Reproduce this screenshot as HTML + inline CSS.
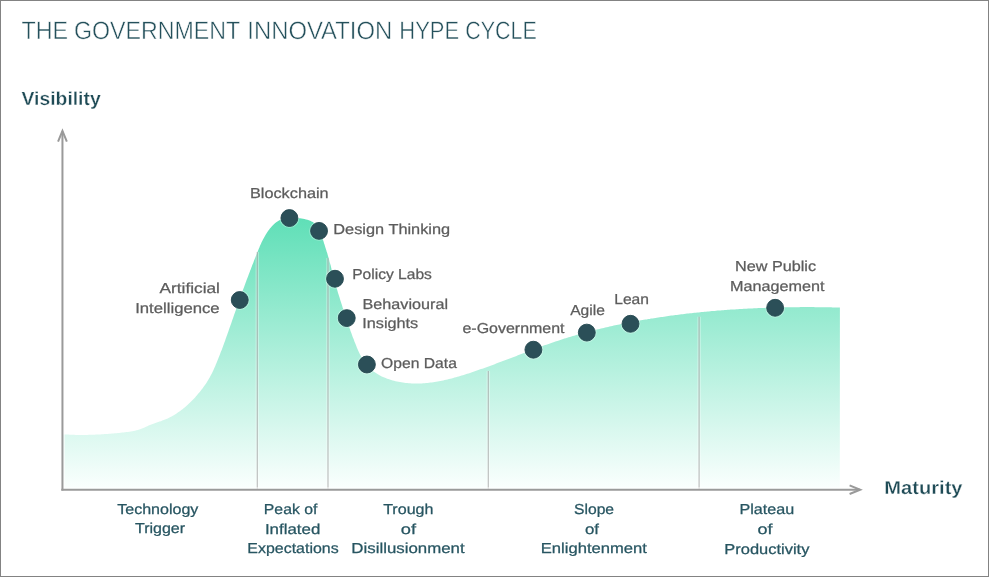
<!DOCTYPE html>
<html><head><meta charset="utf-8"><style>
html,body{margin:0;padding:0;background:#fff;}
body{width:989px;height:577px;overflow:hidden;position:relative;}
svg{position:absolute;left:0;top:0;will-change:transform;text-rendering:geometricPrecision;font-family:"Liberation Sans",sans-serif;}
.frame{position:absolute;left:0;top:0;width:987px;height:575px;border:1px solid #838383;}
</style></head><body>
<svg width="989" height="577" viewBox="0 0 989 577">
<defs><linearGradient id="g" x1="0" y1="218" x2="0" y2="489" gradientUnits="userSpaceOnUse">
<stop offset="0" stop-color="#5fdfb7"/><stop offset="1" stop-color="#fbfffe"/></linearGradient></defs>
<path d="M62.0,434.3 L64.0,434.4 L65.4,434.5 L66.9,434.6 L68.4,434.6 L69.8,434.7 L71.3,434.8 L72.7,434.8 L74.2,434.8 L75.7,434.9 L77.1,434.9 L78.6,434.9 L80.0,434.9 L81.5,434.9 L82.9,434.9 L84.4,434.9 L85.9,434.9 L87.3,434.9 L88.8,434.8 L90.2,434.8 L91.7,434.8 L93.1,434.7 L94.6,434.7 L96.0,434.6 L97.5,434.5 L98.9,434.5 L100.4,434.4 L101.8,434.3 L103.3,434.2 L104.7,434.1 L106.2,434.0 L107.6,433.9 L109.1,433.8 L110.5,433.7 L112.0,433.6 L113.4,433.5 L114.9,433.3 L116.3,433.2 L117.8,433.0 L119.2,432.9 L120.7,432.7 L122.1,432.6 L123.6,432.4 L125.0,432.3 L126.5,432.1 L128.0,431.9 L129.4,431.7 L130.9,431.5 L132.3,431.2 L133.7,431.0 L135.1,430.7 L136.5,430.3 L137.9,429.9 L139.3,429.5 L140.7,429.0 L142.0,428.5 L143.3,427.9 L144.6,427.4 L146.0,426.8 L147.3,426.2 L148.6,425.6 L150.0,425.1 L151.3,424.6 L152.7,424.1 L154.1,423.6 L155.4,423.1 L156.8,422.6 L158.2,422.1 L159.6,421.6 L161.0,421.2 L162.3,420.6 L163.7,420.1 L165.1,419.6 L166.4,419.0 L167.7,418.4 L169.1,417.8 L170.4,417.1 L171.6,416.4 L172.9,415.7 L174.2,415.0 L175.4,414.2 L176.6,413.4 L177.8,412.6 L179.0,411.8 L180.2,410.9 L181.3,410.1 L182.5,409.2 L183.6,408.3 L184.7,407.4 L185.8,406.4 L186.9,405.5 L188.0,404.5 L189.0,403.6 L190.1,402.6 L191.1,401.6 L192.1,400.5 L193.1,399.5 L194.1,398.5 L195.1,397.4 L196.0,396.3 L197.0,395.2 L197.9,394.1 L198.8,393.0 L199.8,391.9 L200.7,390.8 L201.6,389.6 L202.5,388.5 L203.3,387.3 L204.2,386.1 L205.0,384.9 L205.9,383.7 L206.7,382.5 L207.4,381.3 L208.2,380.1 L208.9,378.8 L209.7,377.6 L210.3,376.3 L211.0,375.0 L211.7,373.8 L212.3,372.5 L212.9,371.2 L213.5,369.9 L214.1,368.6 L214.7,367.3 L215.3,366.0 L215.8,364.6 L216.4,363.3 L216.9,362.0 L217.5,360.6 L218.0,359.3 L218.5,358.0 L219.1,356.6 L219.6,355.3 L220.1,353.9 L220.6,352.6 L221.1,351.2 L221.7,349.9 L222.2,348.5 L222.7,347.2 L223.2,345.8 L223.7,344.5 L224.2,343.1 L224.7,341.7 L225.2,340.4 L225.6,339.0 L226.1,337.7 L226.6,336.3 L227.1,334.9 L227.6,333.5 L228.1,332.2 L228.6,330.8 L229.0,329.4 L229.5,328.1 L230.0,326.7 L230.5,325.3 L231.0,323.9 L231.5,322.6 L231.9,321.2 L232.4,319.8 L232.9,318.4 L233.4,317.1 L233.8,315.7 L234.3,314.3 L234.8,312.9 L235.3,311.6 L235.8,310.2 L236.3,308.8 L236.7,307.5 L237.2,306.1 L237.7,304.7 L238.2,303.3 L238.7,302.0 L239.2,300.6 L239.7,299.2 L240.2,297.9 L240.6,296.5 L241.1,295.1 L241.6,293.7 L242.1,292.4 L242.6,291.0 L243.1,289.6 L243.6,288.3 L244.1,286.9 L244.6,285.5 L245.1,284.2 L245.6,282.8 L246.1,281.4 L246.6,280.1 L247.1,278.7 L247.7,277.3 L248.2,276.0 L248.7,274.6 L249.2,273.3 L249.7,271.9 L250.2,270.5 L250.8,269.2 L251.3,267.8 L251.8,266.4 L252.3,265.1 L252.9,263.7 L253.4,262.4 L253.9,261.0 L254.5,259.6 L255.0,258.3 L255.5,256.9 L256.1,255.6 L256.6,254.2 L257.1,252.9 L257.7,251.5 L258.2,250.2 L258.8,248.8 L259.4,247.5 L259.9,246.1 L260.5,244.8 L261.1,243.4 L261.7,242.1 L262.4,240.8 L263.0,239.5 L263.7,238.2 L264.4,237.0 L265.1,235.7 L265.8,234.5 L266.6,233.2 L267.4,232.0 L268.2,230.8 L269.1,229.7 L269.9,228.5 L270.9,227.4 L271.9,226.3 L272.9,225.3 L273.9,224.2 L275.0,223.2 L276.2,222.3 L277.4,221.5 L278.6,220.7 L279.9,220.1 L281.2,219.5 L282.6,219.1 L284.0,218.8 L285.5,218.6 L286.9,218.4 L288.4,218.3 L289.8,218.2 L291.3,218.1 L292.7,218.1 L294.2,218.1 L295.6,218.1 L297.1,218.1 L298.5,218.2 L300.0,218.3 L301.5,218.5 L303.0,218.7 L304.5,219.0 L306.0,219.4 L307.4,219.8 L308.9,220.2 L310.2,220.8 L311.5,221.4 L312.8,222.1 L314.0,222.9 L315.1,223.8 L316.0,224.8 L316.9,225.8 L317.8,226.9 L318.5,228.1 L319.2,229.4 L319.8,230.7 L320.4,232.1 L320.9,233.4 L321.4,234.8 L321.9,236.3 L322.3,237.7 L322.8,239.1 L323.2,240.6 L323.7,242.0 L324.1,243.4 L324.6,244.8 L325.0,246.2 L325.4,247.6 L325.9,249.0 L326.3,250.3 L326.7,251.7 L327.2,253.1 L327.6,254.5 L328.0,255.9 L328.4,257.3 L328.8,258.6 L329.2,260.0 L329.5,261.4 L329.9,262.8 L330.3,264.2 L330.7,265.6 L331.0,267.1 L331.4,268.5 L331.7,269.9 L332.1,271.3 L332.5,272.7 L332.8,274.1 L333.2,275.5 L333.5,276.9 L333.9,278.3 L334.3,279.8 L334.7,281.2 L335.1,282.6 L335.4,284.0 L335.8,285.4 L336.3,286.8 L336.7,288.2 L337.1,289.6 L337.5,291.0 L337.9,292.4 L338.3,293.8 L338.8,295.2 L339.2,296.6 L339.7,298.0 L340.1,299.4 L340.5,300.8 L341.0,302.2 L341.4,303.6 L341.9,304.9 L342.3,306.3 L342.7,307.7 L343.2,309.1 L343.6,310.4 L344.1,311.8 L344.5,313.2 L345.0,314.5 L345.4,315.9 L345.9,317.3 L346.3,318.6 L346.8,320.0 L347.2,321.4 L347.7,322.7 L348.2,324.1 L348.6,325.5 L349.1,326.8 L349.6,328.2 L350.1,329.5 L350.5,330.9 L351.0,332.3 L351.5,333.6 L352.0,335.0 L352.5,336.4 L353.0,337.7 L353.6,339.1 L354.1,340.5 L354.6,341.9 L355.2,343.3 L355.7,344.6 L356.3,346.0 L356.8,347.4 L357.4,348.8 L358.0,350.2 L358.6,351.6 L359.3,352.9 L359.9,354.3 L360.6,355.6 L361.3,356.9 L362.0,358.2 L362.7,359.4 L363.5,360.7 L364.3,361.9 L365.2,363.1 L366.0,364.2 L367.0,365.3 L367.9,366.4 L368.9,367.4 L369.9,368.4 L371.0,369.4 L372.0,370.3 L373.2,371.2 L374.3,372.0 L375.5,372.8 L376.7,373.6 L377.9,374.3 L379.1,375.0 L380.4,375.7 L381.7,376.4 L383.0,377.0 L384.3,377.6 L385.7,378.1 L387.1,378.7 L388.4,379.1 L389.8,379.6 L391.2,380.0 L392.7,380.4 L394.1,380.8 L395.5,381.2 L397.0,381.5 L398.4,381.8 L399.9,382.1 L401.3,382.3 L402.8,382.5 L404.3,382.7 L405.7,382.9 L407.2,383.1 L408.7,383.2 L410.1,383.3 L411.6,383.4 L413.0,383.4 L414.5,383.5 L415.9,383.5 L417.4,383.5 L418.8,383.5 L420.3,383.4 L421.7,383.4 L423.2,383.3 L424.6,383.2 L426.1,383.1 L427.5,382.9 L429.0,382.8 L430.4,382.6 L431.8,382.4 L433.3,382.2 L434.7,382.0 L436.1,381.8 L437.6,381.5 L439.0,381.3 L440.4,381.0 L441.8,380.7 L443.3,380.4 L444.7,380.1 L446.1,379.8 L447.5,379.5 L448.9,379.1 L450.3,378.8 L451.7,378.4 L453.2,378.0 L454.6,377.6 L456.0,377.2 L457.4,376.8 L458.8,376.4 L460.2,376.0 L461.6,375.6 L463.0,375.2 L464.4,374.7 L465.8,374.3 L467.2,373.8 L468.6,373.4 L470.0,372.9 L471.3,372.5 L472.7,372.0 L474.1,371.5 L475.5,371.1 L476.9,370.6 L478.3,370.1 L479.6,369.6 L481.0,369.1 L482.4,368.7 L483.8,368.2 L485.1,367.7 L486.5,367.2 L487.9,366.7 L489.3,366.2 L490.6,365.7 L492.0,365.2 L493.4,364.7 L494.7,364.2 L496.1,363.6 L497.5,363.1 L498.8,362.6 L500.2,362.1 L501.6,361.6 L502.9,361.1 L504.3,360.6 L505.6,360.0 L507.0,359.5 L508.4,359.0 L509.7,358.5 L511.1,357.9 L512.4,357.4 L513.8,356.9 L515.2,356.4 L516.5,355.9 L517.9,355.3 L519.2,354.8 L520.6,354.3 L522.0,353.8 L523.3,353.3 L524.7,352.7 L526.0,352.2 L527.4,351.7 L528.8,351.2 L530.1,350.7 L531.5,350.2 L532.9,349.7 L534.2,349.1 L535.6,348.6 L536.9,348.1 L538.3,347.6 L539.7,347.1 L541.0,346.6 L542.4,346.1 L543.8,345.6 L545.1,345.1 L546.5,344.7 L547.9,344.2 L549.3,343.7 L550.6,343.2 L552.0,342.7 L553.4,342.3 L554.8,341.8 L556.1,341.3 L557.5,340.9 L558.9,340.4 L560.3,340.0 L561.7,339.5 L563.1,339.1 L564.4,338.6 L565.8,338.2 L567.2,337.8 L568.6,337.3 L570.0,336.9 L571.4,336.5 L572.8,336.1 L574.2,335.7 L575.6,335.3 L577.0,334.8 L578.4,334.4 L579.8,334.1 L581.2,333.7 L582.6,333.3 L584.0,332.9 L585.4,332.5 L586.8,332.1 L588.2,331.8 L589.6,331.4 L591.0,331.0 L592.5,330.7 L593.9,330.3 L595.3,329.9 L596.7,329.6 L598.1,329.2 L599.5,328.9 L601.0,328.6 L602.4,328.2 L603.8,327.9 L605.2,327.6 L606.6,327.2 L608.1,326.9 L609.5,326.6 L610.9,326.3 L612.3,326.0 L613.8,325.6 L615.2,325.3 L616.6,325.0 L618.0,324.7 L619.5,324.4 L620.9,324.1 L622.3,323.9 L623.8,323.6 L625.2,323.3 L626.6,323.0 L628.1,322.7 L629.5,322.4 L630.9,322.2 L632.4,321.9 L633.8,321.6 L635.2,321.4 L636.7,321.1 L638.1,320.8 L639.5,320.6 L641.0,320.3 L642.4,320.1 L643.8,319.8 L645.3,319.6 L646.7,319.4 L648.2,319.1 L649.6,318.9 L651.0,318.6 L652.5,318.4 L653.9,318.2 L655.4,318.0 L656.8,317.7 L658.2,317.5 L659.7,317.3 L661.1,317.1 L662.6,316.9 L664.0,316.7 L665.5,316.5 L666.9,316.2 L668.3,316.0 L669.8,315.8 L671.2,315.6 L672.7,315.5 L674.1,315.3 L675.6,315.1 L677.0,314.9 L678.4,314.7 L679.9,314.5 L681.3,314.3 L682.8,314.2 L684.2,314.0 L685.7,313.8 L687.1,313.6 L688.6,313.5 L690.0,313.3 L691.5,313.2 L692.9,313.0 L694.4,312.8 L695.8,312.7 L697.3,312.5 L698.7,312.4 L700.2,312.2 L701.6,312.1 L703.1,311.9 L704.5,311.8 L706.0,311.7 L707.4,311.5 L708.9,311.4 L710.3,311.3 L711.8,311.1 L713.2,311.0 L714.7,310.9 L716.1,310.7 L717.6,310.6 L719.0,310.5 L720.5,310.4 L721.9,310.3 L723.4,310.2 L724.8,310.1 L726.3,310.0 L727.7,309.8 L729.2,309.7 L730.6,309.6 L732.1,309.5 L733.5,309.4 L735.0,309.4 L736.4,309.3 L737.9,309.2 L739.4,309.1 L740.8,309.0 L742.3,308.9 L743.7,308.8 L745.2,308.8 L746.6,308.7 L748.1,308.6 L749.5,308.5 L751.0,308.5 L752.4,308.4 L753.9,308.3 L755.4,308.2 L756.8,308.2 L758.3,308.1 L759.7,308.1 L761.2,308.0 L762.6,307.9 L764.1,307.9 L765.5,307.8 L767.0,307.8 L768.5,307.7 L769.9,307.7 L771.4,307.7 L772.8,307.6 L774.3,307.6 L775.7,307.5 L777.2,307.5 L778.7,307.5 L780.1,307.4 L781.6,307.4 L783.0,307.4 L784.5,307.3 L785.9,307.3 L787.4,307.3 L788.9,307.3 L790.3,307.2 L791.8,307.2 L793.2,307.2 L794.7,307.2 L796.2,307.2 L797.6,307.2 L799.1,307.2 L800.5,307.1 L802.0,307.1 L803.4,307.1 L804.9,307.1 L806.4,307.1 L807.8,307.1 L809.3,307.1 L810.7,307.1 L812.2,307.1 L813.7,307.1 L815.1,307.2 L816.6,307.2 L818.0,307.2 L819.5,307.2 L821.0,307.2 L822.4,307.2 L823.9,307.2 L825.3,307.3 L826.8,307.3 L828.2,307.3 L829.7,307.3 L831.2,307.3 L832.6,307.4 L834.1,307.4 L835.5,307.4 L837.0,307.5 L838.5,307.5 L839.9,307.5 L839.8,489 L62,489 Z" fill="url(#g)"/>
<line x1="257.3" y1="252" x2="257.3" y2="489" stroke="#ffffff" stroke-opacity="0.35" stroke-width="3.5"/><line x1="257.3" y1="252" x2="257.3" y2="489" stroke="#8c8c8c" stroke-opacity="0.55" stroke-width="1.2"/>
<line x1="328" y1="258" x2="328" y2="489" stroke="#ffffff" stroke-opacity="0.35" stroke-width="3.5"/><line x1="328" y1="258" x2="328" y2="489" stroke="#8c8c8c" stroke-opacity="0.55" stroke-width="1.2"/>
<line x1="488.3" y1="371" x2="488.3" y2="489" stroke="#ffffff" stroke-opacity="0.35" stroke-width="3.5"/><line x1="488.3" y1="371" x2="488.3" y2="489" stroke="#8c8c8c" stroke-opacity="0.55" stroke-width="1.2"/>
<line x1="699.1" y1="316.7" x2="699.1" y2="489" stroke="#ffffff" stroke-opacity="0.35" stroke-width="3.5"/><line x1="699.1" y1="316.7" x2="699.1" y2="489" stroke="#8c8c8c" stroke-opacity="0.55" stroke-width="1.2"/>
<line x1="62.45" y1="131.5" x2="62.45" y2="490.6" stroke="#fff" stroke-opacity="0.6" stroke-width="5"/>
<line x1="61.3" y1="489.7" x2="860" y2="489.7" stroke="#fff" stroke-opacity="0.6" stroke-width="5"/>
<line x1="62.45" y1="131.5" x2="62.45" y2="490.6" stroke="#9a9a9a" stroke-width="2"/>
<line x1="61.3" y1="489.7" x2="860" y2="489.7" stroke="#9a9a9a" stroke-width="2"/>
<polyline points="58.05,141.6 62.45,130.9 66.85,141.6" fill="none" stroke="#9a9a9a" stroke-width="2"/>
<polyline points="849.6,485.4 860.2,489.7 849.6,494" fill="none" stroke="#9a9a9a" stroke-width="2"/>
<circle cx="239.75" cy="300.0" r="9.9" fill="#ffffff" fill-opacity="0.3"/><circle cx="239.75" cy="300.0" r="8.45" fill="#2b4f58" stroke="#22474f" stroke-width="0.9"/>
<circle cx="289.4" cy="218.05" r="9.9" fill="#ffffff" fill-opacity="0.3"/><circle cx="289.4" cy="218.05" r="8.45" fill="#2b4f58" stroke="#22474f" stroke-width="0.9"/>
<circle cx="319.05" cy="230.9" r="9.9" fill="#ffffff" fill-opacity="0.3"/><circle cx="319.05" cy="230.9" r="8.45" fill="#2b4f58" stroke="#22474f" stroke-width="0.9"/>
<circle cx="335" cy="278.75" r="9.9" fill="#ffffff" fill-opacity="0.3"/><circle cx="335" cy="278.75" r="8.45" fill="#2b4f58" stroke="#22474f" stroke-width="0.9"/>
<circle cx="346.75" cy="318.1" r="9.9" fill="#ffffff" fill-opacity="0.3"/><circle cx="346.75" cy="318.1" r="8.45" fill="#2b4f58" stroke="#22474f" stroke-width="0.9"/>
<circle cx="366.9" cy="364.5" r="9.9" fill="#ffffff" fill-opacity="0.3"/><circle cx="366.9" cy="364.5" r="8.45" fill="#2b4f58" stroke="#22474f" stroke-width="0.9"/>
<circle cx="533.4" cy="349.7" r="9.9" fill="#ffffff" fill-opacity="0.3"/><circle cx="533.4" cy="349.7" r="8.45" fill="#2b4f58" stroke="#22474f" stroke-width="0.9"/>
<circle cx="586.8" cy="332.6" r="9.9" fill="#ffffff" fill-opacity="0.3"/><circle cx="586.8" cy="332.6" r="8.45" fill="#2b4f58" stroke="#22474f" stroke-width="0.9"/>
<circle cx="630.5" cy="323.8" r="9.9" fill="#ffffff" fill-opacity="0.3"/><circle cx="630.5" cy="323.8" r="8.45" fill="#2b4f58" stroke="#22474f" stroke-width="0.9"/>
<circle cx="775.15" cy="307.8" r="9.9" fill="#ffffff" fill-opacity="0.3"/><circle cx="775.15" cy="307.8" r="8.45" fill="#2b4f58" stroke="#22474f" stroke-width="0.9"/>
<text x="21.43" y="39.00" font-size="25" fill="#24505b" textLength="46.69" lengthAdjust="spacingAndGlyphs" stroke="#fff" stroke-width="0.5">THE</text>
<text x="74.06" y="38.55" font-size="25" fill="#24505b" textLength="166.18" lengthAdjust="spacingAndGlyphs" stroke="#fff" stroke-width="0.5">GOVERNMENT</text>
<text x="247.35" y="38.55" font-size="25" fill="#24505b" textLength="144.87" lengthAdjust="spacingAndGlyphs" stroke="#fff" stroke-width="0.5">INNOVATION</text>
<text x="399.35" y="38.55" font-size="25" fill="#24505b" textLength="59.81" lengthAdjust="spacingAndGlyphs" stroke="#fff" stroke-width="0.5">HYPE</text>
<text x="465.22" y="38.55" font-size="25" fill="#24505b" textLength="71.66" lengthAdjust="spacingAndGlyphs" stroke="#fff" stroke-width="0.5">CYCLE</text>
<text x="21.54" y="105.00" font-size="19" font-weight="bold" fill="#1f4b56" textLength="79.16" lengthAdjust="spacingAndGlyphs" stroke="#fff" stroke-width="0.3">Visibility</text>
<text x="884.28" y="494.00" font-size="18.7" font-weight="bold" fill="#1f4b56" textLength="78.31" lengthAdjust="spacingAndGlyphs" stroke="#fff" stroke-width="0.3">Maturity</text>
<text x="249.99" y="198.00" font-size="14.4" fill="#5c5c5c" textLength="78.64" lengthAdjust="spacingAndGlyphs" stroke="#5c5c5c" stroke-width="0.25">Blockchain</text>
<text x="333.31" y="234.00" font-size="14.4" fill="#5c5c5c" textLength="116.90" lengthAdjust="spacingAndGlyphs" stroke="#5c5c5c" stroke-width="0.25">Design Thinking</text>
<text x="352.15" y="279.00" font-size="14.4" fill="#5c5c5c" textLength="79.73" lengthAdjust="spacingAndGlyphs" stroke="#5c5c5c" stroke-width="0.25">Policy Labs</text>
<text x="362.55" y="309.00" font-size="14.4" fill="#5c5c5c" textLength="85.48" lengthAdjust="spacingAndGlyphs" stroke="#5c5c5c" stroke-width="0.25">Behavioural</text>
<text x="362.21" y="328.00" font-size="14.4" fill="#5c5c5c" textLength="56.05" lengthAdjust="spacingAndGlyphs" stroke="#5c5c5c" stroke-width="0.25">Insights</text>
<text x="381.08" y="368.20" font-size="14.4" fill="#5c5c5c" textLength="75.80" lengthAdjust="spacingAndGlyphs" stroke="#5c5c5c" stroke-width="0.25">Open Data</text>
<text x="462.49" y="332.50" font-size="14.4" fill="#5c5c5c" textLength="102.05" lengthAdjust="spacingAndGlyphs" stroke="#5c5c5c" stroke-width="0.25">e-Government</text>
<text x="570.20" y="315.00" font-size="14.4" fill="#5c5c5c" textLength="34.68" lengthAdjust="spacingAndGlyphs" stroke="#5c5c5c" stroke-width="0.25">Agile</text>
<text x="614.25" y="304.00" font-size="14.4" fill="#5c5c5c" textLength="34.75" lengthAdjust="spacingAndGlyphs" stroke="#5c5c5c" stroke-width="0.25">Lean</text>
<text x="734.98" y="271.00" font-size="14.4" fill="#5c5c5c" textLength="81.07" lengthAdjust="spacingAndGlyphs" stroke="#5c5c5c" stroke-width="0.25">New Public</text>
<text x="730.02" y="291.00" font-size="14.4" fill="#5c5c5c" textLength="94.50" lengthAdjust="spacingAndGlyphs" stroke="#5c5c5c" stroke-width="0.25">Management</text>
<text x="159.55" y="293.00" font-size="14.4" fill="#5c5c5c" textLength="60.37" lengthAdjust="spacingAndGlyphs" stroke="#5c5c5c" stroke-width="0.25">Artificial</text>
<text x="135.18" y="313.00" font-size="14.4" fill="#5c5c5c" textLength="84.48" lengthAdjust="spacingAndGlyphs" stroke="#5c5c5c" stroke-width="0.25">Intelligence</text>
<text x="117.22" y="514.00" font-size="14.4" fill="#275561" textLength="81.18" lengthAdjust="spacingAndGlyphs" stroke="#275561" stroke-width="0.25">Technology</text>
<text x="134.94" y="533.00" font-size="14.4" fill="#275561" textLength="50.17" lengthAdjust="spacingAndGlyphs" stroke="#275561" stroke-width="0.25">Trigger</text>
<text x="263.83" y="514.00" font-size="14.4" fill="#275561" textLength="53.59" lengthAdjust="spacingAndGlyphs" stroke="#275561" stroke-width="0.25">Peak of</text>
<text x="264.92" y="534.00" font-size="14.4" fill="#275561" textLength="55.41" lengthAdjust="spacingAndGlyphs" stroke="#275561" stroke-width="0.25">Inflated</text>
<text x="247.36" y="553.00" font-size="14.4" fill="#275561" textLength="91.28" lengthAdjust="spacingAndGlyphs" stroke="#275561" stroke-width="0.25">Expectations</text>
<text x="383.16" y="514.00" font-size="14.4" fill="#275561" textLength="50.29" lengthAdjust="spacingAndGlyphs" stroke="#275561" stroke-width="0.25">Trough</text>
<text x="400.84" y="533.80" font-size="14.4" fill="#275561" textLength="15.26" lengthAdjust="spacingAndGlyphs" stroke="#275561" stroke-width="0.25">of</text>
<text x="351.36" y="553.00" font-size="14.4" fill="#275561" textLength="113.26" lengthAdjust="spacingAndGlyphs" stroke="#275561" stroke-width="0.25">Disillusionment</text>
<text x="573.99" y="514.00" font-size="14.4" fill="#275561" textLength="40.10" lengthAdjust="spacingAndGlyphs" stroke="#275561" stroke-width="0.25">Slope</text>
<text x="584.95" y="533.80" font-size="14.4" fill="#275561" textLength="14.06" lengthAdjust="spacingAndGlyphs" stroke="#275561" stroke-width="0.25">of</text>
<text x="540.77" y="553.35" font-size="14.4" fill="#275561" textLength="106.10" lengthAdjust="spacingAndGlyphs" stroke="#275561" stroke-width="0.25">Enlightenment</text>
<text x="739.48" y="514.00" font-size="14.4" fill="#275561" textLength="54.81" lengthAdjust="spacingAndGlyphs" stroke="#275561" stroke-width="0.25">Plateau</text>
<text x="757.40" y="533.80" font-size="14.4" fill="#275561" textLength="15.02" lengthAdjust="spacingAndGlyphs" stroke="#275561" stroke-width="0.25">of</text>
<text x="724.27" y="554.00" font-size="14.4" fill="#275561" textLength="85.12" lengthAdjust="spacingAndGlyphs" stroke="#275561" stroke-width="0.25">Productivity</text>
</svg>
<div class="frame"></div>
</body></html>
